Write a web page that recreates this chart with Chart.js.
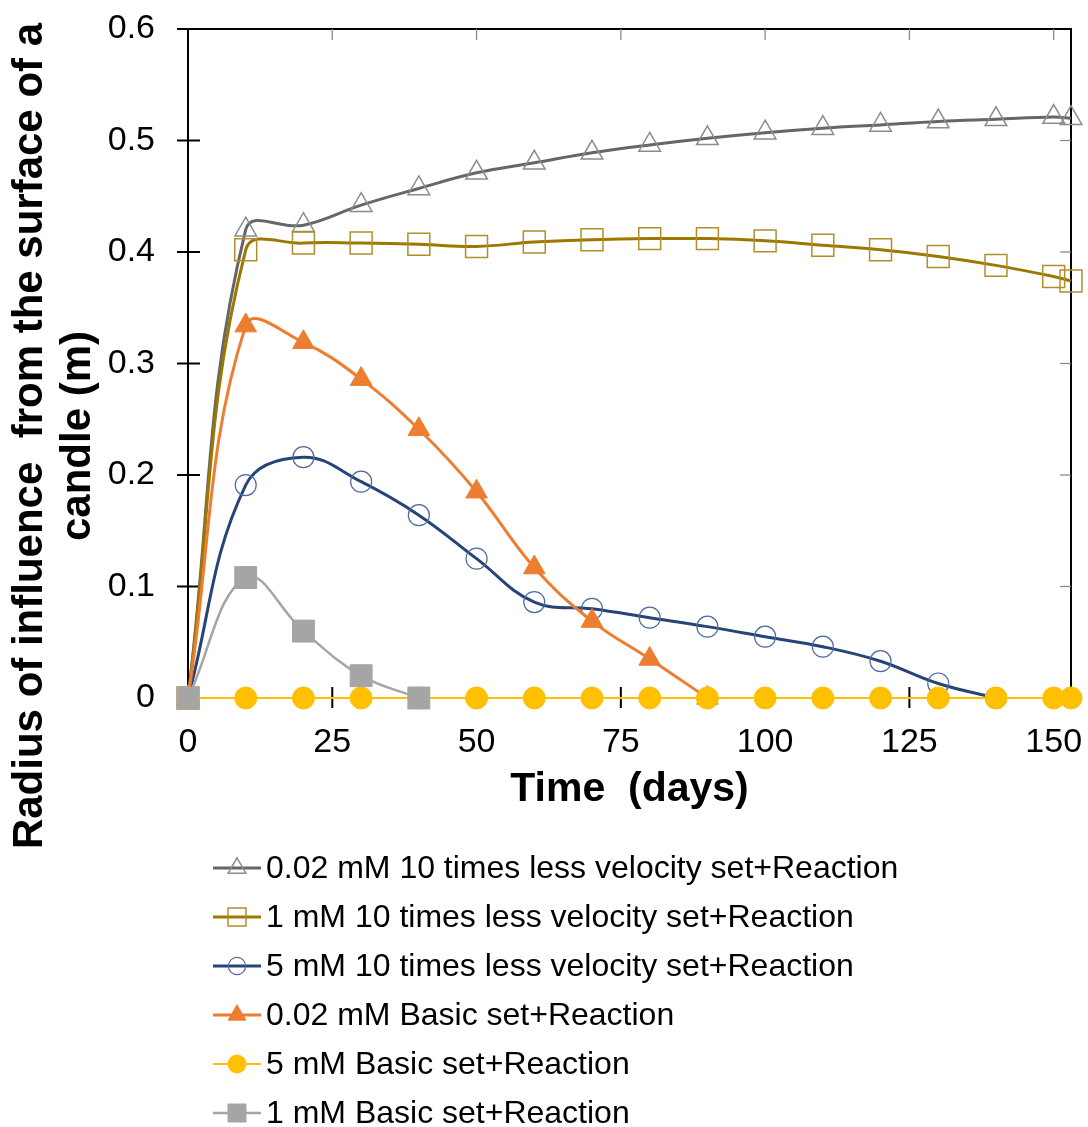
<!DOCTYPE html>
<html><head><meta charset="utf-8">
<script src="https://cdn.jsdelivr.net/npm/chart.js@4.4.1/dist/chart.umd.min.js"></script>
<style>html,body{margin:0;padding:0;background:#fff;}#wrap{width:1088px;height:1127px;position:relative;}</style>
</head><body><div id="wrap"><canvas id="c" width="1088" height="1127"></canvas></div>
<script>
// ---------- data ----------
const X_TICKS = [0, 25, 50, 75, 100, 125, 150];
const Y_TICKS = [0, 0.1, 0.2, 0.3, 0.4, 0.5, 0.6];
const Y_TICK_LABELS = ['0', '0.1', '0.2', '0.3', '0.4', '0.5', '0.6'];
const X_TITLE = 'Time  (days)';
const Y_TITLE_LINES = ['Radius of influence  from the surface of a', 'candle (m)'];
const SERIES_LABELS = [
  '0.02 mM 10 times less velocity set+Reaction',
  '1 mM 10 times less velocity set+Reaction',
  '5 mM 10 times less velocity set+Reaction',
  '0.02 mM Basic set+Reaction',
  '5 mM Basic set+Reaction',
  '1 mM Basic set+Reaction'
];
const T_LONG = [0, 10, 20, 30, 40, 50, 60, 70, 80, 90, 100, 110, 120, 130, 140, 150, 153];
const T_5MM_SLOW = [0, 10, 20, 30, 40, 50, 60, 70, 80, 90, 100, 110, 120, 130, 140];
const T_002_BASIC = [0, 10, 20, 30, 40, 50, 60, 70, 80, 90];
const T_1MM_BASIC = [0, 10, 20, 30, 40];
const V_002_SLOW = [0, 0.420, 0.424, 0.442, 0.457, 0.471, 0.480, 0.489, 0.496, 0.502, 0.507, 0.511, 0.514, 0.517, 0.519, 0.521, 0.520];
const V_1MM_SLOW = [0, 0.402, 0.408, 0.408, 0.407, 0.405, 0.409, 0.411, 0.412, 0.412, 0.410, 0.406, 0.402, 0.396, 0.388, 0.378, 0.374];
const V_5MM_SLOW = [0, 0.191, 0.216, 0.194, 0.164, 0.125, 0.086, 0.080, 0.072, 0.064, 0.055, 0.046, 0.033, 0.013, 0];
const V_002_BASIC = [0, 0.334, 0.319, 0.286, 0.241, 0.185, 0.117, 0.069, 0.035, 0];
const V_5MM_BASIC = [0, 0, 0, 0, 0, 0, 0, 0, 0, 0, 0, 0, 0, 0, 0, 0, 0];
const V_1MM_BASIC = [0, 0.108, 0.060, 0.020, 0];

const FONT = "'Liberation Sans', Arial, sans-serif";
const pts = (xs, ys) => xs.map((x, i) => ({x: x, y: ys[i]}));

const datasets = [
  {label: SERIES_LABELS[0], data: pts(T_LONG, V_002_SLOW), borderColor: '#666666', borderWidth: 3,
   pointStyle: 'triangle', pointRadius: 12.5, pointBorderColor: '#8c8c8c', pointBackgroundColor: 'rgba(0,0,0,0)', pointBorderWidth: 1.5, order: 6},
  {label: SERIES_LABELS[1], data: pts(T_LONG, V_1MM_SLOW), borderColor: '#9c7800', borderWidth: 3,
   pointStyle: 'rect', pointRadius: 15.5, pointBorderColor: '#b08f2a', pointBackgroundColor: 'rgba(0,0,0,0)', pointBorderWidth: 1.5, order: 5},
  {label: SERIES_LABELS[2], data: pts(T_5MM_SLOW, V_5MM_SLOW), borderColor: '#264478', borderWidth: 3,
   pointStyle: 'circle', pointRadius: 10.5, pointBorderColor: '#4d6aa0', pointBackgroundColor: 'rgba(0,0,0,0)', pointBorderWidth: 1.2, order: 4},
  {label: SERIES_LABELS[3], data: pts(T_002_BASIC, V_002_BASIC), borderColor: '#ED7D31', borderWidth: 3,
   pointStyle: 'triangle', pointRadius: 12.5, pointBorderColor: '#ED7D31', pointBackgroundColor: '#ED7D31', pointBorderWidth: 1, order: 3},
  {label: SERIES_LABELS[4], data: pts(T_LONG, V_5MM_BASIC), borderColor: '#FFC000', borderWidth: 2.2,
   pointStyle: 'circle', pointRadius: 11, pointBorderColor: '#FFC000', pointBackgroundColor: '#FFC000', pointBorderWidth: 1, order: 2},
  {label: SERIES_LABELS[5], data: pts(T_1MM_BASIC, V_1MM_BASIC), borderColor: '#A5A5A5', borderWidth: 2.5,
   pointStyle: 'rect', pointRadius: 15.5, pointBorderColor: '#A5A5A5', pointBackgroundColor: '#A5A5A5', pointBorderWidth: 1, order: 1}
];
datasets.forEach(d => { d.tension = 0.4; d.fill = false; d.clip = false; d.pointHoverRadius = d.pointRadius; });

function drawMarker(ctx, style, x, y, r, fill, stroke, lw) {
  ctx.save();
  ctx.beginPath();
  if (style === 'triangle') {
    let a = 0;
    ctx.moveTo(x + Math.sin(a) * r, y - Math.cos(a) * r);
    a += 2 * Math.PI / 3; ctx.lineTo(x + Math.sin(a) * r, y - Math.cos(a) * r);
    a += 2 * Math.PI / 3; ctx.lineTo(x + Math.sin(a) * r, y - Math.cos(a) * r);
    ctx.closePath();
  } else if (style === 'rect') {
    const s = Math.SQRT1_2 * r;
    ctx.rect(x - s, y - s, 2 * s, 2 * s);
  } else {
    ctx.arc(x, y, r, 0, Math.PI * 2);
  }
  ctx.fillStyle = fill; ctx.fill();
  ctx.lineWidth = lw; ctx.strokeStyle = stroke; ctx.stroke();
  ctx.restore();
}

const framePlugin = {
  id: 'frame',
  beforeDatasetsDraw(chart) {
    const {ctx, chartArea: a, scales: {x, y}} = chart;
    ctx.save();
    ctx.strokeStyle = '#000'; ctx.lineWidth = 2;
    ctx.beginPath();
    ctx.moveTo(a.left, a.top); ctx.lineTo(a.right, a.top); ctx.lineTo(a.right, a.bottom);
    ctx.stroke();
    ctx.strokeStyle = '#8a8a8a'; ctx.lineWidth = 1.3;
    X_TICKS.forEach(v => {
      if (v === 0) return;
      const px = x.getPixelForValue(v);
      ctx.beginPath(); ctx.moveTo(px, a.top); ctx.lineTo(px, a.top + 11); ctx.stroke();
    });
    Y_TICKS.forEach(v => {
      if (v === 0 || v === 0.6) return;
      const py = y.getPixelForValue(v);
      ctx.beginPath(); ctx.moveTo(a.right, py); ctx.lineTo(a.right - 11, py); ctx.stroke();
    });
    ctx.strokeStyle = '#000'; ctx.lineWidth = 2;
    ctx.beginPath();
    ctx.moveTo(a.left, a.top); ctx.lineTo(a.left, a.bottom); ctx.lineTo(a.right, a.bottom);
    ctx.stroke();
    Y_TICKS.forEach(v => {
      const py = y.getPixelForValue(v);
      ctx.beginPath(); ctx.moveTo(a.left - 11, py); ctx.lineTo(a.left + 12, py); ctx.stroke();
    });
    X_TICKS.forEach(v => {
      const px = x.getPixelForValue(v);
      ctx.beginPath(); ctx.moveTo(px, a.bottom - 11); ctx.lineTo(px, a.bottom + 10); ctx.stroke();
    });
    ctx.restore();
  },
  afterDraw(chart) {
    const {ctx, chartArea: a} = chart;
    ctx.save();
    ctx.fillStyle = '#000';
    ctx.font = 'bold 41px ' + FONT;
    ctx.textAlign = 'center'; ctx.textBaseline = 'middle';
    ctx.fillText(X_TITLE, (a.left + a.right) / 2, 790);
    ctx.save();
    ctx.translate(0, 436);
    ctx.rotate(-Math.PI / 2);
    ctx.font = 'bold 42px ' + FONT;
    ctx.fillText(Y_TITLE_LINES[0], 0, 30);
    ctx.fillText(Y_TITLE_LINES[1], 0, 78);
    ctx.restore();
    const rows = [868, 917, 966, 1015, 1064, 1113];
    ctx.font = '32px ' + FONT;
    ctx.textAlign = 'left'; ctx.textBaseline = 'middle';
    chart.data.datasets.forEach((d, i) => {
      const yy = rows[i];
      ctx.strokeStyle = d.borderColor; ctx.lineWidth = d.borderWidth;
      ctx.beginPath(); ctx.moveTo(213, yy); ctx.lineTo(261, yy); ctx.stroke();
      drawMarker(ctx, d.pointStyle, 237, yy, d.pointRadius * 0.82, d.pointBackgroundColor, d.pointBorderColor, d.pointBorderWidth);
      ctx.fillStyle = '#000';
      ctx.fillText(d.label, 266, yy + 1);
    });
    ctx.restore();
  }
};

new Chart(document.getElementById('c'), {
  type: 'line',
  data: {datasets: datasets},
  options: {
    responsive: false, animation: false, devicePixelRatio: 1,
    layout: {padding: {top: 29, right: 17, left: 0, bottom: 0}},
    plugins: {legend: {display: false}, tooltip: {enabled: false}},
    events: [],
    scales: {
      x: {
        type: 'linear', min: 0, max: 153,
        grid: {display: false}, border: {display: false},
        ticks: {font: {size: 34, family: FONT}, color: '#000', padding: 16, maxRotation: 0, autoSkip: false,
                callback: (v) => String(v)},
        afterBuildTicks: s => { s.ticks = X_TICKS.map(v => ({value: v})); },
        afterFit: s => { s.height = 429; s.paddingLeft = 0; s.paddingRight = 0; }
      },
      y: {
        type: 'linear', min: 0, max: 0.6,
        grid: {display: false}, border: {display: false},
        ticks: {font: {size: 34, family: FONT}, color: '#000', padding: 25, autoSkip: false,
                callback: (v) => { const i = Y_TICKS.findIndex(t => Math.abs(t - v) < 1e-9); return i >= 0 ? Y_TICK_LABELS[i] : ''; }},
        afterBuildTicks: s => { s.ticks = Y_TICKS.map(v => ({value: v})); },
        afterFit: s => { s.width = 188; s.paddingTop = 0; s.paddingBottom = 0; }
      }
    }
  },
  plugins: [framePlugin]
});
</script></body></html>
